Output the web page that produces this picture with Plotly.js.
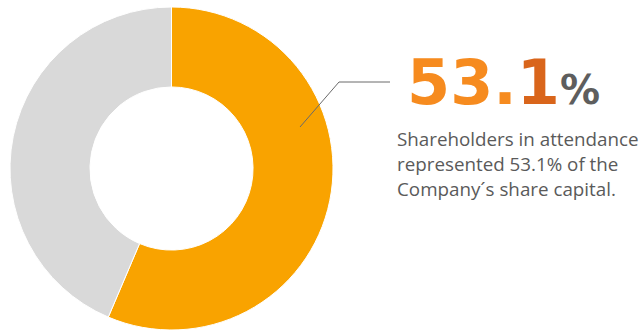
<!DOCTYPE html>
<html><head><meta charset="utf-8">
<script src="https://cdn.plot.ly/plotly-3.0.1.min.js"></script>
<style>html,body{margin:0;padding:0;background:#fff}#chart{width:644px;height:334px}</style>
</head><body><div id="chart"></div>
<script>
const labels = ['In attendance', 'Not in attendance'];
const values = [56.4, 43.6];
const colors = ['#F9A300', '#D9D9D9'];
const headline = ['53.', '1', '%'];
const captionLines = ['Shareholders in attendance', 'represented 53.1% of the', 'Company\u00b4s share capital.'];

const W = 644, H = 334;
const px = x => x / W, py = y => 1 - y / H;

const trace = {
  type: 'pie', labels: labels, values: values, sort: false, direction: 'clockwise', rotation: 0,
  hole: 0.505, textinfo: 'none', hoverinfo: 'label+percent',
  marker: {colors: colors, line: {color: '#ffffff', width: 1}},
  domain: {x: [px(10), px(333)], y: [py(330), py(7)]}, showlegend: false
};

const annotations = [{
  xref: 'paper', yref: 'paper', x: px(405), y: py(82), xanchor: 'left', yanchor: 'middle', showarrow: false,
  text: '<b><span style="color:#F68B1F">' + headline[0] + '</span><span style="color:#D9651B">' + headline[1] +
        '</span><span style="color:#5E5E5E;font-size:40px">' + headline[2] + '</span></b>',
  font: {family: 'DejaVu Sans, sans-serif', size: 62}
}];
captionLines.forEach((t, i) => annotations.push({
  xref: 'paper', yref: 'paper', x: px(395), y: py(139 + 25 * i), xanchor: 'left', yanchor: 'middle', showarrow: false,
  text: t, font: {family: 'Open Sans, sans-serif', size: 18.8, color: '#5A5A5A'}
}));

const layout = {
  width: W, height: H, margin: {l: 0, r: 0, t: 0, b: 0}, paper_bgcolor: '#fff',
  annotations: annotations,
  shapes: [{type: 'path', xref: 'paper', yref: 'paper',
    path: `M ${px(300)} ${py(127)} L ${px(339)} ${py(82)} L ${px(390)} ${py(82)}`,
    line: {color: '#6A6A6A', width: 1}}]
};
Plotly.newPlot('chart', [trace], layout, {displayModeBar: false, staticPlot: true});
</script></body></html>
